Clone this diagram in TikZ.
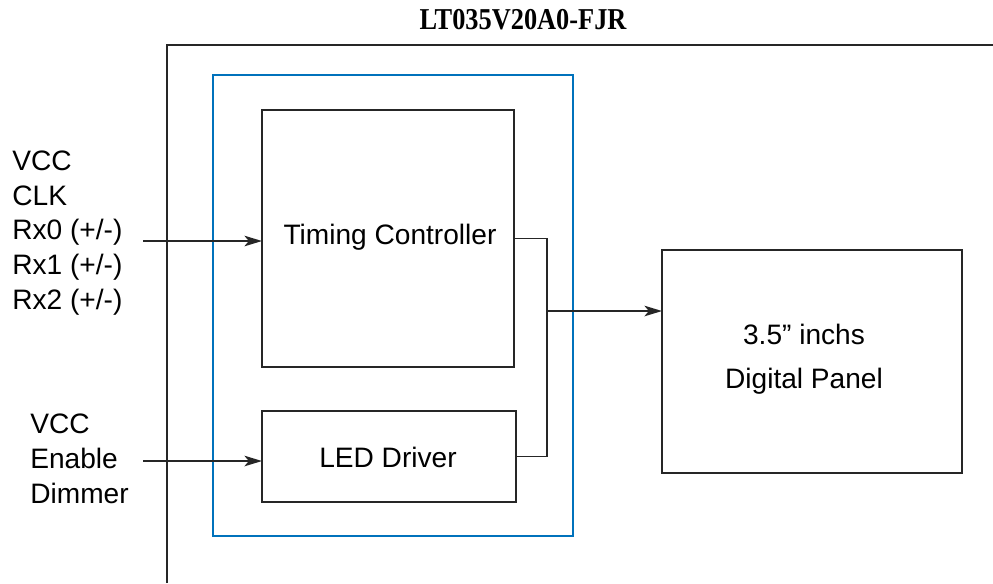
\documentclass[tikz,border=0pt]{standalone}
\usepackage{fontspec}
\setmainfont{Liberation Sans}
\newfontfamily\titlefont{Liberation Serif}
\usetikzlibrary{arrows.meta,positioning}

\begin{document}
\begin{tikzpicture}[x=0.02cm, y=-0.02cm,
    >={Stealth[length=10pt, width=6pt, inset=2.5pt]},
    blk/.style={draw=black!85, line width=1.1pt, inner sep=0pt, outer sep=0pt},
    lbl/.style={font=\fontsize{16}{19.8}\selectfont, inner sep=0pt},
    wire/.style={draw=black!85, line width=1.1pt}]
    \useasboundingbox (0,0) rectangle (993,583);

    % 枠
    \draw[wire] (167,583) -- (167,45) -- (993,45);
    \node[font=\titlefont\bfseries\fontsize{15}{18}\selectfont, inner sep=0pt] (title) at (523,20) {\scalebox{1}[1.15]{LT035V20A0-FJR}};
    \draw[draw={rgb,255:red,0;green,114;blue,188}, line width=1.1pt] (213,75) rectangle (573,536);

    % ブロック
    \node[blk, minimum width=5.04cm, minimum height=5.14cm] (tcon) at (388,238.5) {};
    \node[lbl] (tcontxt) at (390,237) {Timing Controller};
    \node[blk, minimum width=5.08cm, minimum height=1.82cm] (led) at (389,456.5) {};
    \node[lbl] (ledtxt) at (388,457) {LED Driver};
    \node[blk, minimum width=6cm, minimum height=4.46cm] (panel) at (812,361.5) {};
    \node[lbl, align=center, font=\fontsize{16}{25}\selectfont] (paneltxt) at (804,359) {3.5” inchs\\Digital Panel};

    % 入力
    \node[lbl, align=left, anchor=west] (rxsig) at (12,233) {VCC\\CLK\\Rx0 (+/-)\\Rx1 (+/-)\\Rx2 (+/-)};
    \node[lbl, align=left, anchor=west] (ledsig) at (30,459) {VCC\\Enable\\Dimmer};
    \coordinate (rxin) at (143,241);
    \coordinate (ledin) at (143,461);
    \draw[wire, ->] (rxin) -- (rxin -| tcon.west);
    \draw[wire, ->] (ledin) -- (ledin -| led.west);

    % 出力
    \coordinate (jn) at (547,311);
    \draw[wire] (tcon.east) -| (jn) |- (led.east);
    \draw[wire, ->] (jn) -- (jn -| panel.west);
\end{tikzpicture}
\end{document}
